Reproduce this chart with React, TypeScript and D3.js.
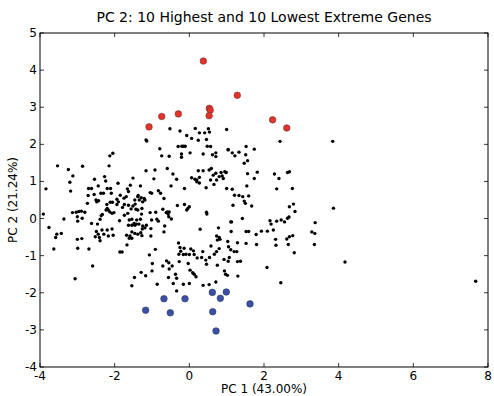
import { useEffect, useRef } from 'react';
import * as d3 from 'd3';

// PC1 / PC2 scores of all genes
const geneX = [
  -2.13, -2.05, -2.15, -3.53, -3.24, -2.86, -3.12, -3.20, -3.18, -3.84, -0.92, -1.16, -0.95, -1.51, -2.27, -2.24, -2.54, -1.91,
  -2.62, -2.70, -2.44, -2.11, -2.20, -1.66, -1.58, -1.63, -1.31, -2.30, -2.37, -2.55, -2.71, -2.09, -1.85, -1.69, -1.75, -1.37,
  -1.38, -1.29, -1.21, -1.34, -1.46, -1.05, -1.01, -0.83, -2.50, -2.48, -2.43, -2.73, -2.12, -2.06, -1.94, -1.90, -1.94, -2.21,
  -2.20, -2.17, -2.13, -2.23, -2.07, -2.02, -2.33, -2.36, -1.74, -1.63, -1.45, -1.51, -1.43, -1.38, -1.79, -1.56, -1.65, -1.25,
  -1.19, -1.27, -3.13, -3.03, -2.96, -2.89, -2.80, -3.00, -2.87, -2.99, -3.36, -3.91, -2.39, -2.46, -2.62, -1.87, -1.74, -1.61,
  -1.54, -1.48, -1.41, -1.31, -1.28, -1.05, -0.90, -1.01, -0.87, -0.83, -1.63, -1.54, -1.46, -1.42, -1.35, -1.26, -1.19, -1.25,
  -1.15, -1.03, -3.76, -3.43, -3.55, -3.58, -2.49, -2.34, -2.20, -2.07, -2.44, -2.41, -2.39, -2.52, -2.29, -2.17, -2.04, -1.68,
  -1.61, -1.59, -1.54, -1.46, -1.38, -1.30, -1.27, -1.54, -3.00, -2.88, -1.03, -1.67, -3.63, -2.99, -2.69, -0.91,
  -1.86, -1.80, -1.07, -0.99, -2.59, -3.06, -1.29, -1.17, -1.00, -1.47, -1.54, -0.86,
  -0.74, -0.54, -0.21, -0.21, 0.02, 0.37, 0.62, 0.71, 0.71, 1.04, 1.15, 1.33, 1.22, 1.51, 1.56, 1.47, 1.82, 1.56, 1.74, 1.54,
  -0.59, -0.44, -0.34, -0.49, -0.13, 0.06, 0.15, 0.20, 0.20, 0.27, 0.27, 0.24, 0.37, 0.53, 0.59, 0.64, 0.71, 0.85, 0.95, 0.99,
  0.80, 0.88, 0.91, 0.73, 0.57, 0.66, 0.45, 1.00, 1.15, 1.21, 1.33, 1.17, 1.43, 1.59, 1.47, 1.50, 1.67, 1.42, -0.77, -0.68,
  -0.71, -0.62, -0.59, -0.57, -0.54, -0.55, -0.48, -0.32, -0.13, -0.04, 0.00, -0.07, 0.46, 0.47, -0.66, -0.68, 0.29, 0.78,
  1.11, 1.13, 1.12, 1.52, 1.59, 1.93, 2.09, 1.79, 0.73, 0.80, 0.82, 0.75, 1.03, 0.58, 0.80, 1.05, 1.29, 1.52, 1.80, -0.29,
  -0.25, -0.14, 0.04, 1.11, 2.16,
  -0.23, -0.28, -0.16, -0.09, 0.00, 0.11, 0.13, 0.21, 0.36, 0.33, 0.44, 0.46, 0.54, 0.67, 0.73, 1.07, 1.20, 1.27, 1.29, 1.37,
  0.93, 1.04, 0.75, -0.71, -0.61, -0.55, -0.46, -0.54, -0.27, -0.03, 0.02, 0.18, 0.09, 0.13, -0.56, -0.37, -0.34, -0.43, -0.34,
  -0.16, 0.00, 0.37, 0.53, 0.71, 0.94, 0.97, 1.02, 1.30, 2.08,
  2.28, 2.40, 2.63, 2.68, 2.34, 2.76, 2.68, 2.79, 2.83, 3.86, 2.19, 2.34, 2.46, 2.55, 2.63, 2.67, 2.25, 3.37, 3.28, 3.36, 2.31,
  2.61, 2.68, 2.77, 2.32, 2.65, 3.35, 2.81, 4.17, 2.45, 2.43, 3.84,
  -0.52, -0.25, 0.16, 0.27, 0.41, 0.54, 0.51, 1.00, -0.07, 0.06, 0.24, 0.46, -0.30, -0.20, -0.16, -0.11, 0.48, 0.57, -0.79, 1.04,
  1.52, 1.74, -1.16, -1.14, 7.67,
];
const geneY = [
  1.69, 1.76, 1.42, 1.42, 1.32, 1.41, 1.15, 0.98, 0.74, 0.80, 1.31, 1.29, 1.07, 1.09, 1.13, 1.01, 1.06, 0.95,
  0.81, 0.81, 0.88, 0.81, 0.81, 0.80, 0.90, 0.73, 0.88, 0.68, 0.68, 0.65, 0.62, 0.68, 0.63, 0.59, 0.55, 0.62,
  0.59, 0.56, 0.54, 0.50, 0.50, 0.70, 0.68, 0.75, 0.50, 0.45, 0.48, 0.41, 0.44, 0.44, 0.52, 0.45, 0.38, 0.38,
  0.27, 0.23, 0.18, 0.23, 0.14, 0.16, 0.11, 0.08, 0.38, 0.36, 0.39, 0.34, 0.25, 0.23, 0.30, 0.26, 0.14, 0.45,
  0.50, 0.27, 0.16, 0.17, 0.19, 0.20, 0.17, 0.05, 0.01, -0.07, -0.01, 0.12, -0.02, -0.15, -0.13, -0.06, 0.09, -0.04,
  -0.02, -0.13, -0.04, -0.02, 0.12, 0.16, 0.17, -0.04, -0.02, -0.07, -0.18, -0.18, -0.18, -0.15, -0.15, -0.28, -0.25, -0.20,
  -0.18, -0.27, -0.24, -0.40, -0.42, -0.51, -0.35, -0.31, -0.31, -0.28, -0.42, -0.51, -0.60, -0.49, -0.42, -0.47, -0.45, -0.45,
  -0.53, -0.47, -0.53, -0.40, -0.42, -0.38, -0.46, -0.36, -0.56, -0.54, -0.47, -0.71, -0.82, -0.80, -0.82, -0.83,
  -0.90, -0.90, -0.98, -1.21, -1.28, -1.62, -1.45, -1.54, -1.41, -1.59, -1.81, -1.77,
  1.69, 1.68, 1.74, 1.65, 1.77, 1.74, 1.72, 1.77, 1.67, 1.85, 1.77, 1.79, 1.69, 1.72, 1.56, 1.49, 1.25, 1.21, 1.08, 0.88,
  1.35, 1.20, 1.06, 0.88, 0.81, 1.10, 1.06, 1.04, 0.99, 1.11, 0.96, 1.29, 1.29, 1.31, 1.35, 1.17, 1.22, 1.24, 1.26, 1.24,
  1.13, 1.15, 1.08, 1.04, 1.04, 0.92, 0.83, 0.81, 0.79, 0.63, 0.62, 0.36, 0.59, 0.61, 0.47, 0.41, 0.34, 0.00, 0.68, 0.54,
  0.25, 0.16, 0.18, 0.12, 0.18, 0.05, -0.01, 0.35, 0.38, 0.27, 0.32, 0.23, 0.17, 0.12, -0.20, -0.36, -0.29, -0.25,
  -0.09, -0.09, -0.35, -0.35, -0.35, -0.34, -0.34, -0.43, -0.47, -0.51, -0.56, -0.58, -0.62, -0.74, -0.81, -0.76, -0.65, -0.67, -0.70, -0.66,
  -0.78, -0.80, -0.82, -0.84, -0.06,
  -0.88, -0.96, -0.97, -0.96, -0.97, -0.87, -0.97, -1.06, -0.89, -1.05, -1.12, -1.23, -1.05, -0.96, -0.89, -1.05, -0.89, -0.89, -1.16, -1.15,
  -1.10, -1.15, -1.26, -1.28, -1.14, -1.19, -1.28, -1.36, -1.16, -1.21, -1.39, -1.57, -1.46, -1.50, -1.59, -1.50, -1.61, -1.75, -1.95,
  -1.77, -1.75, -1.80, -1.78, -1.71, -1.41, -1.50, -1.53, -1.55, -1.32,
  1.20, 1.08, 1.24, 1.26, 0.80, 0.81, 0.32, 0.39, 0.19, 0.28, -0.15, -0.07, -0.04, -0.09, 0.01, 0.04, -0.31, -0.11, -0.36, -0.40, -0.56,
  -0.55, -0.49, -0.46, -0.72, -0.70, -0.70, -0.92, -1.17, -1.73, 2.08, 2.08,
  2.42, 2.36, 2.43, 2.31, 2.31, 2.33, 2.42, 2.40, 2.24, 2.16, 2.11, 2.13, 1.94, 1.95, 1.95, 1.95, 1.95, 1.94, 1.88, 1.86,
  1.94, 1.87, 2.12, 2.09, -1.69,
];

// 10 highest PC2 genes
const highX = [0.375, 1.285, 0.535, 0.56, 0.53, -0.295, -0.74, -1.08, 2.23, 2.61];
const highY = [4.245, 3.32, 2.97, 2.92, 2.77, 2.82, 2.75, 2.47, 2.66, 2.44];
// 10 lowest PC2 genes
const lowX = [-0.68, -0.116, 0.616, 0.99, 0.83, 1.625, -0.51, 0.626, 0.715, -1.17];
const lowY = [-2.16, -2.16, -1.99, -1.98, -2.15, -2.30, -2.54, -2.51, -3.03, -2.47];

const xTicks = [-4, -2, 0, 2, 4, 6, 8];
const yTicks = [-4, -3, -2, -1, 0, 1, 2, 3, 4, 5];

const W = 494;
const H = 396;
const FONT = 'DejaVu Sans, sans-serif';

export default function App() {
  const svgRef = useRef<SVGSVGElement>(null);

  useEffect(() => {
    if (!svgRef.current) return;
    const svg = d3.select(svgRef.current);
    svg.selectAll('*').remove();

    const left = 40, right = 488, top = 33, bottom = 367;
    const x = d3.scaleLinear().domain([-4, 8]).range([left, right]);
    const y = d3.scaleLinear().domain([-4, 5]).range([bottom, top]);

    svg.append('rect').attr('width', W).attr('height', H).attr('fill', '#fff');

    // all genes
    const pts = d3.range(geneX.length).map(i => ({ x: geneX[i], y: geneY[i] }));
    svg.append('g')
      .selectAll('circle')
      .data(pts)
      .join('circle')
      .attr('cx', d => x(d.x))
      .attr('cy', d => y(d.y))
      .attr('r', 1.7)
      .attr('fill', '#000');

    const hi = highX.map((v, i) => ({ x: v, y: highY[i] }));
    svg.append('g')
      .selectAll('circle')
      .data(hi)
      .join('circle')
      .attr('cx', d => x(d.x))
      .attr('cy', d => y(d.y))
      .attr('r', 3.3)
      .attr('fill', '#e5322a')
      .attr('stroke', '#6a3a36')
      .attr('stroke-width', 0.6);

    const lo = lowX.map((v, i) => ({ x: v, y: lowY[i] }));
    svg.append('g')
      .selectAll('circle')
      .data(lo)
      .join('circle')
      .attr('cx', d => x(d.x))
      .attr('cy', d => y(d.y))
      .attr('r', 3.3)
      .attr('fill', '#3b4fa4')
      .attr('stroke', '#2e3a6a')
      .attr('stroke-width', 0.6);

    // frame
    svg.append('rect')
      .attr('x', left).attr('y', top)
      .attr('width', right - left).attr('height', bottom - top)
      .attr('fill', 'none').attr('stroke', '#000').attr('stroke-width', 1);

    const tick = 4;
    const tg = svg.append('g').attr('stroke', '#000').attr('stroke-width', 0.8);
    xTicks.forEach(t => {
      tg.append('line').attr('x1', x(t)).attr('x2', x(t)).attr('y1', bottom).attr('y2', bottom - tick);
      tg.append('line').attr('x1', x(t)).attr('x2', x(t)).attr('y1', top).attr('y2', top + tick);
    });
    yTicks.forEach(t => {
      tg.append('line').attr('x1', left).attr('x2', left + tick).attr('y1', y(t)).attr('y2', y(t));
      tg.append('line').attr('x1', right).attr('x2', right - tick).attr('y1', y(t)).attr('y2', y(t));
    });

    // tick labels
    svg.append('g')
      .selectAll('text')
      .data(xTicks)
      .join('text')
      .attr('x', d => x(d))
      .attr('y', bottom + 13)
      .attr('text-anchor', 'middle')
      .style('font-family', FONT)
      .style('font-size', '12px')
      .text(d => String(d));

    svg.append('g')
      .selectAll('text')
      .data(yTicks)
      .join('text')
      .attr('x', left - 3)
      .attr('y', d => y(d) + 4)
      .attr('text-anchor', 'end')
      .style('font-family', FONT)
      .style('font-size', '12px')
      .text(d => String(d));

    // title and axis labels
    svg.append('text')
      .attr('x', (left + right) / 2)
      .attr('y', 22)
      .attr('text-anchor', 'middle')
      .style('font-family', FONT)
      .style('font-size', '14px')
      .text('PC 2: 10 Highest and 10 Lowest Extreme Genes');

    svg.append('text')
      .attr('x', (left + right) / 2)
      .attr('y', 393)
      .attr('text-anchor', 'middle')
      .style('font-family', FONT)
      .style('font-size', '12px')
      .text('PC 1 (43.00%)');

    svg.append('text')
      .attr('transform', `translate(17,${(top + bottom) / 2}) rotate(-90)`)
      .attr('text-anchor', 'middle')
      .style('font-family', FONT)
      .style('font-size', '12px')
      .text('PC 2 (21.24%)');
  }, []);

  return (
    <svg
      ref={svgRef}
      width={W}
      height={H}
      style={{ position: 'absolute', left: 0, top: 0 }}
    />
  );
}
